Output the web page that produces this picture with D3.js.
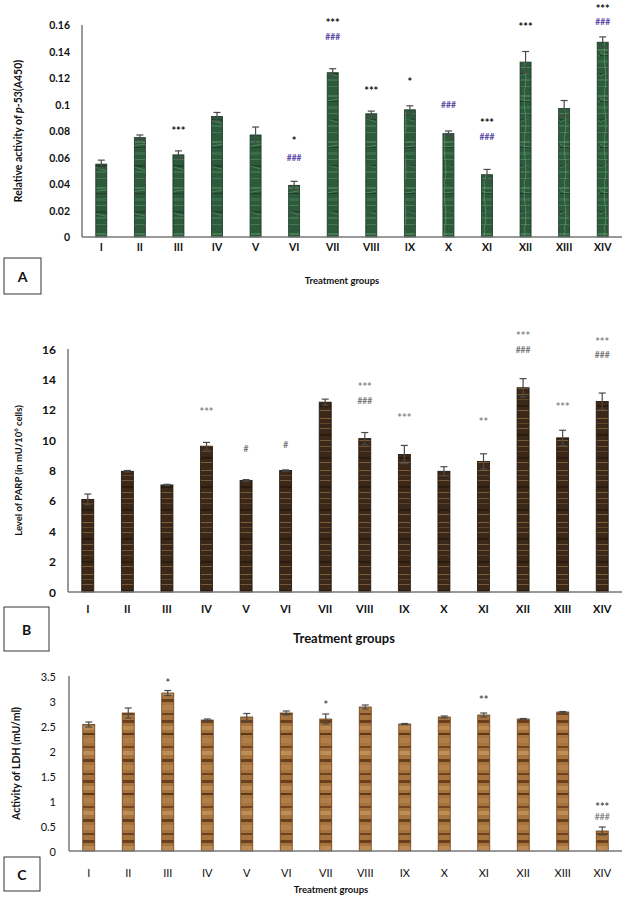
<!DOCTYPE html>
<html>
<head>
<meta charset="utf-8">
<script src="https://cdn.jsdelivr.net/npm/d3@7"></script>
<style>
  body { margin: 0; background: #fff; }
  svg { font-family: Lato, "Open Sans", sans-serif; }
</style>
</head>
<body>
<div id="viz"></div>
<script>
// treatment groups, shared by all three panels
var groups = ['I','II','III','IV','V','VI','VII','VIII','IX','X','XI','XII','XIII','XIV'];

// Panel A - p53
var p53 = [0.055, 0.075, 0.062, 0.091, 0.077, 0.039, 0.124, 0.093, 0.096, 0.078, 0.047, 0.132, 0.097, 0.147];
var p53Err = [0.003, 0.002, 0.003, 0.003, 0.006, 0.003, 0.003, 0.002, 0.003, 0.002, 0.004, 0.008, 0.006, 0.004];
var p53Ticks = [0, 0.02, 0.04, 0.06, 0.08, 0.1, 0.12, 0.14, 0.16];
// significance marks: [group, text, level]
var p53Stars = [['III','***',0.0823],['VI','*',0.075],['VII','***',0.164],['VIII','***',0.1125],
  ['IX','*',0.120],['XI','***',0.089],['XII','***',0.161],['XIV','***',0.175]];
var p53Hash = [['VI','###',0.060],['VII','###',0.151],['X','###',0.0996],['XI','###',0.0755],['XIV','###',0.162]];

// Panel B - PARP
var parp = [6.1, 7.95, 7.05, 9.6, 7.35, 8.0, 12.5, 10.1, 9.05, 7.95, 8.6, 13.45, 10.15, 12.55];
var parpErr = [0.35, 0.05, 0.04, 0.25, 0.05, 0.04, 0.2, 0.4, 0.6, 0.3, 0.5, 0.6, 0.5, 0.55];
var parpTicks = [0, 2, 4, 6, 8, 10, 12, 14, 16];
var parpStars = [['IV','***',12.06],['VIII','***',13.7],['IX','***',11.67],['XI','**',11.4],
  ['XII','***',17.06],['XIII','***',12.4],['XIV','***',16.7]];
var parpHash = [['V','#',9.4],['VI','#',9.7],['VIII','###',12.6],['XII','###',15.94],['XIV','###',15.6]];

// Panel C - LDH
var ldh = [2.53, 2.76, 3.16, 2.62, 2.68, 2.76, 2.64, 2.88, 2.54, 2.68, 2.72, 2.64, 2.78, 0.40];
var ldhErr = [0.05, 0.1, 0.05, 0.02, 0.07, 0.04, 0.1, 0.04, 0.01, 0.02, 0.04, 0.01, 0.01, 0.08];
var ldhTicks = [0, 0.5, 1, 1.5, 2, 2.5, 3, 3.5];
var ldhStars = [['III','*',3.43],['VII','*',3.0],['XI','**',3.1],['XIV','***',0.96]];
var ldhHash = [['XIV','###',0.68]];

var width = 625, height = 898;

var svg = d3.select('#viz')
  .append('svg')
  .attr('width', width)
  .attr('height', height);

var defs = svg.append('defs');

// bar textures (fixed stripe offsets, purely decorative)
function stripes(id, base, h, lines) {
  var p = defs.append('pattern')
    .attr('id', id)
    .attr('patternUnits', 'userSpaceOnUse')
    .attr('width', 40).attr('height', h);
  p.append('rect').attr('width', 40).attr('height', h).attr('fill', base);
  lines.forEach(function(l) {
    p.append('rect')
      .attr('x', 0).attr('y', l[0])
      .attr('width', 40).attr('height', l[1])
      .attr('fill', l[2]).attr('opacity', l[3]);
  });
  return p;
}
// green marble
stripes('texA', '#2c5a3a', 46, [
  [3, 2, '#5f9a70', 0.5], [9, 1, '#1a3a24', 0.8], [14, 3, '#4e8a60', 0.4], [21, 1, '#7ab08a', 0.4],
  [27, 2, '#1c3c26', 0.7], [33, 2, '#5a9468', 0.4], [40, 1, '#84b894', 0.3]
]).append('path')
  .attr('d', 'M0,6 C10,14 20,0 40,10 M0,30 C12,22 26,40 40,28 M5,0 C2,15 9,30 4,46')
  .attr('stroke', '#6ea880').attr('stroke-width', 1).attr('fill', 'none').attr('opacity', 0.55);
// dark brown wood
stripes('texB', '#3b2818', 52, [
  [2, 1, '#9a7448', 0.7], [7, 1, '#6e4f30', 0.8], [12, 1, '#b08a58', 0.5], [18, 2, '#241608', 0.7],
  [24, 1, '#8a6840', 0.8], [30, 1, '#c09866', 0.4], [35, 1, '#6a4a2a', 0.8], [41, 2, '#201408', 0.6],
  [46, 1, '#a88050', 0.6]
]);
// light brown wood
stripes('texC', '#a8743e', 60, [
  [0, 3, '#5a3214', 0.8], [6, 4, '#c89a60', 0.6], [13, 2, '#3e2008', 0.7], [18, 5, '#b88450', 0.6],
  [26, 2, '#6a3a18', 0.8], [31, 4, '#d4a870', 0.5], [39, 3, '#4a2a10', 0.7], [45, 5, '#c08e58', 0.5],
  [53, 2, '#5e3616', 0.8]
]);

function panel(o) {
  var x = d3.scaleBand()
    .domain(groups)
    .range([o.x0, o.x1]);

  var y = d3.scaleLinear()
    .domain(o.domain)
    .range([o.y0, o.y1]);

  var g = svg.append('g');

  // tick labels (no tick marks, Excel style)
  g.append('g')
    .selectAll('text')
    .data(o.ticks)
    .join('text')
    .attr('x', o.x0 - o.tickGap)
    .attr('y', d => y(d))
    .attr('text-anchor', 'end')
    .attr('dominant-baseline', 'central')
    .attr('font-size', o.tickSize)
    .attr('font-weight', o.tickWeight)
    .attr('fill', '#111')
    .text(d => d3.format('~g')(d));

  // bars
  g.append('g')
    .selectAll('rect')
    .data(o.values)
    .join('rect')
    .attr('x', (d, i) => x(groups[i]) + x.bandwidth() / 2 - o.barW / 2)
    .attr('y', d => y(d))
    .attr('width', o.barW)
    .attr('height', d => y(0) - y(d))
    .attr('fill', 'url(#' + o.tex + ')')
    .attr('stroke', o.barStroke)
    .attr('stroke-width', 0.8);

  // error bars
  var eb = g.append('g')
    .attr('stroke', '#4a4a4a')
    .attr('stroke-width', 1.2)
    .selectAll('g')
    .data(o.values)
    .join('g');
  eb.append('line')
    .attr('x1', (d, i) => x(groups[i]) + x.bandwidth() / 2)
    .attr('x2', (d, i) => x(groups[i]) + x.bandwidth() / 2)
    .attr('y1', (d, i) => y(d + o.err[i]))
    .attr('y2', (d, i) => y(d - o.err[i]));
  eb.append('line')
    .attr('x1', (d, i) => x(groups[i]) + x.bandwidth() / 2 - 3.5)
    .attr('x2', (d, i) => x(groups[i]) + x.bandwidth() / 2 + 3.5)
    .attr('y1', (d, i) => y(d + o.err[i]))
    .attr('y2', (d, i) => y(d + o.err[i]));
  eb.append('line')
    .attr('x1', (d, i) => x(groups[i]) + x.bandwidth() / 2 - 3.5)
    .attr('x2', (d, i) => x(groups[i]) + x.bandwidth() / 2 + 3.5)
    .attr('y1', (d, i) => y(d - o.err[i]))
    .attr('y2', (d, i) => y(d - o.err[i]));

  // axes lines
  g.append('line')
    .attr('x1', o.x0).attr('x2', o.x0)
    .attr('y1', y(o.domain[1])).attr('y2', y(0))
    .attr('stroke', '#777').attr('stroke-width', 1.5);
  g.append('line')
    .attr('x1', o.x0).attr('x2', o.x1)
    .attr('y1', y(0)).attr('y2', y(0))
    .attr('stroke', '#777').attr('stroke-width', 1.5);

  // category labels
  g.append('g')
    .selectAll('text')
    .data(groups)
    .join('text')
    .attr('x', d => x(d) + x.bandwidth() / 2)
    .attr('y', o.catY)
    .attr('text-anchor', 'middle')
    .attr('dominant-baseline', 'central')
    .attr('font-size', o.catSize)
    .attr('font-weight', o.tickWeight)
    .attr('fill', '#111')
    .text(d => d);

  // significance marks
  g.append('g')
    .selectAll('text')
    .data(o.stars)
    .join('text')
    .attr('x', d => x(d[0]) + x.bandwidth() / 2)
    .attr('y', d => y(d[2]) + 3)
    .attr('text-anchor', 'middle')
    .attr('dominant-baseline', 'central')
    .attr('font-size', 11)
    .attr('font-weight', 'bold')
    .attr('fill', o.starColor)
    .text(d => d[1]);
  g.append('g')
    .selectAll('text')
    .data(o.hash)
    .join('text')
    .attr('x', d => x(d[0]) + x.bandwidth() / 2)
    .attr('y', d => y(d[2]))
    .attr('text-anchor', 'middle')
    .attr('dominant-baseline', 'central')
    .attr('font-size', 8.5)
    .attr('font-weight', 'bold')
    .attr('fill', o.hashColor)
    .text(d => d[1]);

  // x title
  g.append('text')
    .attr('x', o.titleX)
    .attr('y', o.titleY)
    .attr('text-anchor', 'middle')
    .attr('dominant-baseline', 'central')
    .attr('font-size', o.titleSize)
    .attr('font-weight', 'bold')
    .attr('fill', '#111')
    .text('Treatment groups');

  // y title
  var yt = g.append('text')
    .attr('transform', 'translate(' + o.yTitleX + ',' + (y(0) + y(o.domain[1])) / 2 + ') rotate(-90)')
    .attr('text-anchor', 'middle')
    .attr('dominant-baseline', 'central')
    .attr('font-size', o.yTitleSize)
    .attr('font-weight', 'bold')
    .attr('fill', '#111');
  o.yTitle(yt);

  // panel letter box
  g.append('rect')
    .attr('x', o.box[0]).attr('y', o.box[1])
    .attr('width', o.box[2]).attr('height', o.box[3])
    .attr('fill', 'none').attr('stroke', '#333').attr('stroke-width', 1);
  g.append('text')
    .attr('x', o.box[0] + o.box[2] / 2)
    .attr('y', o.box[1] + o.box[3] / 2)
    .attr('text-anchor', 'middle')
    .attr('dominant-baseline', 'central')
    .attr('font-size', 14)
    .attr('font-weight', 'bold')
    .attr('fill', '#111')
    .text(o.letter);
}

panel({
  values: p53, err: p53Err, ticks: p53Ticks, stars: p53Stars, hash: p53Hash,
  domain: [0, 0.16], x0: 82, x1: 622, y0: 237, y1: 25, barW: 11, tex: 'texA', barStroke: '#1a3322',
  tickGap: 12, tickSize: 10.5, tickWeight: 'bold', catY: 247, catSize: 10.5,
  starColor: '#111', hashColor: '#5a4aa8',
  titleX: 342, titleY: 280, titleSize: 9.5, yTitleX: 18, yTitleSize: 10.5,
  yTitle: function(t) {
    t.append('tspan').text('Relative activity of ');
    t.append('tspan').attr('font-style', 'italic').text('p');
    t.append('tspan').text('-53(A450)');
  },
  box: [4, 258, 37, 36], letter: 'A'
});

panel({
  values: parp, err: parpErr, ticks: parpTicks, stars: parpStars, hash: parpHash,
  domain: [0, 16], x0: 68, x1: 622, y0: 592, y1: 349, barW: 12, tex: 'texB', barStroke: '#1c1208',
  tickGap: 12, tickSize: 12, tickWeight: 'bold', catY: 608, catSize: 11,
  starColor: '#8a8a8a', hashColor: '#7a7a7a',
  titleX: 344, titleY: 638, titleSize: 13, yTitleX: 18, yTitleSize: 9.5,
  yTitle: function(t) {
    t.append('tspan').text('Level of PARP (in mU/10');
    t.append('tspan').attr('font-size', 6).attr('dy', -3).text('6');
    t.append('tspan').attr('dy', 3).text(' cells)');
  },
  box: [4, 607, 45, 44], letter: 'B'
});

panel({
  values: ldh, err: ldhErr, ticks: ldhTicks, stars: ldhStars, hash: ldhHash,
  domain: [0, 3.5], x0: 69, x1: 622, y0: 851, y1: 676, barW: 12, tex: 'texC', barStroke: '#6a4018',
  tickGap: 13, tickSize: 11, tickWeight: 'normal', catY: 872, catSize: 11,
  starColor: '#555', hashColor: '#8a8a8a',
  titleX: 331, titleY: 889, titleSize: 9.5, yTitleX: 16, yTitleSize: 10.5,
  yTitle: function(t) {
    t.append('tspan').text('Activity of LDH (mU/ml)');
  },
  box: [4, 857, 36, 34], letter: 'C'
});
</script>
</body>
</html>
